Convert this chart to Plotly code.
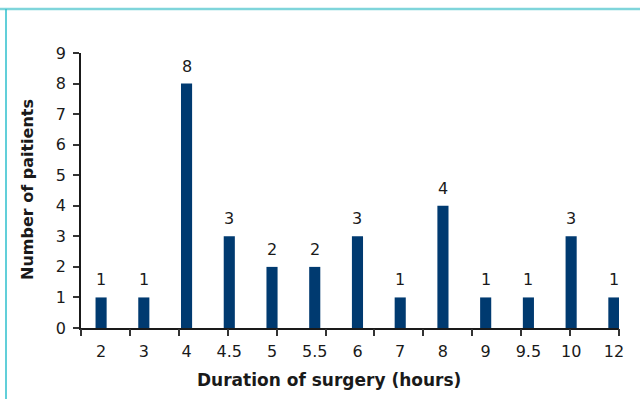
import plotly.graph_objects as go

categories = ["2", "3", "4", "4.5", "5", "5.5", "6", "7", "8", "9", "9.5", "10", "12"]
patients = [1, 1, 8, 3, 2, 2, 3, 1, 4, 1, 1, 3, 1]
y_ticks = list(range(0, 10))

BAR = "#003a70"
FONT = "DejaVu Sans"

fig = go.Figure()
fig.add_trace(go.Bar(
    x=categories, y=patients,
    marker=dict(color=BAR, line=dict(width=0)),
    width=0.26,
    cliponaxis=False,
    hoverinfo="skip",
))
# invisible trace to activate the secondary (tick-mark) axis
fig.add_trace(go.Scatter(x=[0, 11], y=[0, 0], xaxis="x2", mode="markers",
                         marker=dict(opacity=0), hoverinfo="skip", showlegend=False))

# on a category axis annotations are placed by category index
value_labels = [
    dict(x=i, y=v, xref="x", yref="y", text=str(v), showarrow=False,
         xanchor="center", yanchor="bottom", yshift=6,
         font=dict(family=FONT, size=16, color="#1a1a1a"))
    for i, v in enumerate(patients)
]

fig.update_layout(
    width=640, height=399,
    margin=dict(l=81, r=21, t=53, b=71),
    paper_bgcolor="white", plot_bgcolor="white",
    showlegend=False,
    font=dict(family=FONT, size=16, color="#1a1a1a"),
    xaxis=dict(
        type="category", range=[-0.47, 12.12],
        showline=True, linecolor="#1a1a1a", linewidth=1.5,
        ticks="", showgrid=False, zeroline=False,
        tickfont=dict(family=FONT, size=16, color="#1a1a1a"),
        ticklabelstandoff=8,
    ),
    xaxis2=dict(
        overlaying="x", side="bottom", range=[0, 11], dtick=1, tick0=0,
        showticklabels=False, ticks="outside", ticklen=7, tickwidth=1.5,
        tickcolor="#333333", showline=False, showgrid=False, zeroline=False,
        anchor="y",
    ),
    yaxis=dict(
        range=[0, 9], tickvals=y_ticks, ticktext=[str(v) for v in y_ticks],
        showline=True, linecolor="#1a1a1a", linewidth=1.5,
        ticks="outside", ticklen=6, tickwidth=1.5, tickcolor="#333333",
        showgrid=False, zeroline=False,
        tickfont=dict(family=FONT, size=16, color="#1a1a1a"),
        ticklabelstandoff=4,
    ),
    shapes=[
        dict(type="line", xref="paper", yref="paper", x0=-81/538, x1=1 + 21/538,
             y0=1 + 44/275, y1=1 + 44/275, line=dict(color="#7fd5db", width=2.5)),
        dict(type="line", xref="paper", yref="paper", x0=-75/538, x1=-75/538,
             y0=1 + 44/275, y1=-71/275, line=dict(color="#2dbfcc", width=1.5)),
    ],
    annotations=value_labels + [
        dict(text="<b>Duration of surgery (hours)</b>", xref="paper", yref="paper",
             x=(329 - 81) / 538, y=-(380 - 328) / 275, xanchor="center", yanchor="middle",
             showarrow=False, font=dict(family=FONT, size=17, color="#1a1a1a")),
        dict(text="<b>Number of paitients</b>", xref="paper", yref="paper",
             x=-(81 - 27) / 538, y=(328 - 190) / 275, xanchor="center", yanchor="middle",
             textangle=-90, showarrow=False, font=dict(family=FONT, size=16, color="#1a1a1a")),
    ],
)

fig.write_html("out.html", config={"displayModeBar": False},
               post_script="document.body.style.margin='0px';")
